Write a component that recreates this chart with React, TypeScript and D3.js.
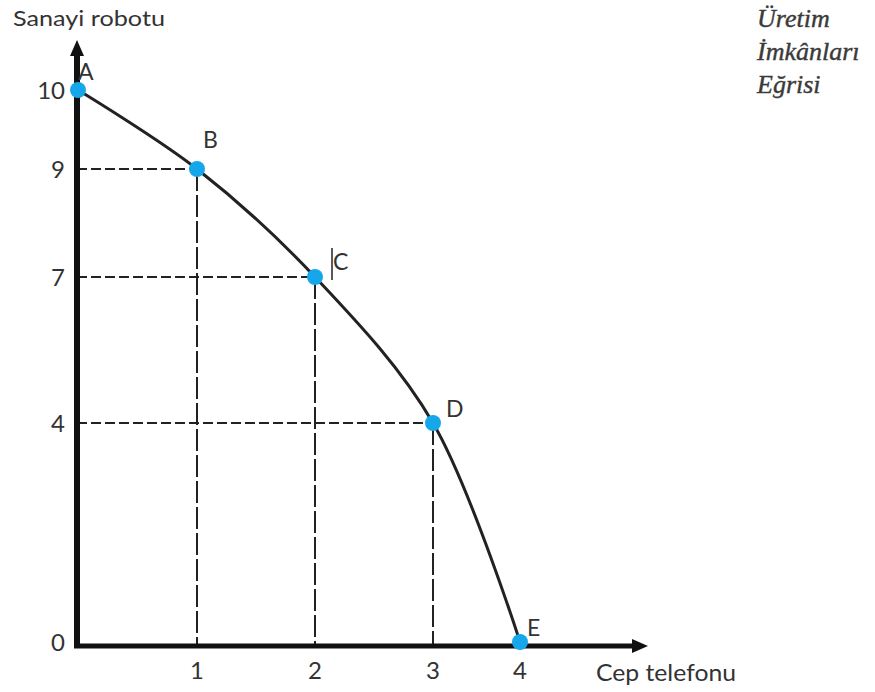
import React from "react";
import * as d3 from "d3";

// Production possibilities: phones (x) vs industrial robots (y)
const pointLabels = ["A", "B", "C", "D", "E"];
const phones = [0, 1, 2, 3, 4];
const robots = [10, 9, 7, 4, 0];
const xTicks = [1, 2, 3, 4];
const yTicks = [0, 4, 7, 9, 10];
const titleLines = ["Üretim", "İmkânları", "Eğrisi"];

const width = 875;
const height = 692;
const ink = "#222";
const textColor = "#333";
const dotColor = "#16a6ea";
const sans = "Lato, 'DejaVu Sans', sans-serif";

export default function App() {
  // The textbook figure is not drawn to a uniform scale, so use piecewise scales
  const x = d3.scaleLinear().domain([0, 1, 2, 3, 4]).range([78, 197, 315, 433, 520]);
  const y = d3.scaleLinear().domain([0, 4, 7, 9, 10]).range([642, 423, 277, 169, 90]);

  const data = phones.map((p, i) => ({ label: pointLabels[i], x: p, y: robots[i] }));

  const curve = d3
    .line<{ x: number; y: number }>()
    .x(d => x(d.x))
    .y(d => y(d.y))
    .curve(d3.curveCatmullRom.alpha(0.5));

  const originX = x(0) - 1;
  const originY = y(0) + 4;
  const xEnd = 648;
  const yTop = 40;

  // label offsets relative to each point
  const labelOffset: Record<string, [number, number]> = {
    A: [0, -10],
    B: [6, -21],
    C: [18, -7],
    D: [13, -6],
    E: [7, -6],
  };

  return (
    <svg
      width={width}
      height={height}
      viewBox={`0 0 ${width} ${height}`}
      style={{ position: "absolute", left: 0, top: 0, background: "#fff" }}
    >
      <rect width={width} height={height} fill="#fff" />

      {/* dashed guide lines */}
      <g stroke={ink} strokeWidth={2} fill="none">
        {data
          .filter(d => d.x > 0 && d.y > 0)
          .map(d => (
            <g key={d.label}>
              <line
                x1={originX}
                x2={x(d.x)}
                y1={y(d.y)}
                y2={y(d.y)}
                strokeDasharray="10,4"
              />
              <line
                x1={x(d.x)}
                x2={x(d.x)}
                y1={y(d.y)}
                y2={originY}
                strokeDasharray="22,4"
              />
            </g>
          ))}
      </g>

      {/* axes */}
      <line x1={originX} x2={originX} y1={originY + 2} y2={yTop + 12} stroke="#111" strokeWidth={6} />
      <path
        d={`M${originX},${yTop} L${originX - 7},${yTop + 16} L${originX + 7},${yTop + 16} Z`}
        fill="#111"
      />
      <line x1={originX - 3} x2={xEnd - 12} y1={originY} y2={originY} stroke="#111" strokeWidth={5} />
      <path
        d={`M${xEnd},${originY} L${xEnd - 16},${originY - 7} L${xEnd - 16},${originY + 7} Z`}
        fill="#111"
      />

      {/* curve */}
      <path d={curve(data) ?? ""} fill="none" stroke={ink} strokeWidth={3} />

      {/* points */}
      {data.map(d => (
        <circle key={d.label} cx={x(d.x)} cy={y(d.y)} r={8} fill={dotColor} />
      ))}

      {/* point labels */}
      <g fontFamily={sans} fontSize={23} fill={textColor}>
        {data.map(d => (
          <text
            key={d.label}
            x={x(d.x) + labelOffset[d.label][0]}
            y={y(d.y) + labelOffset[d.label][1]}
          >
            {d.label}
          </text>
        ))}
      </g>
      {/* stray cursor mark beside C */}
      <line x1={x(2) + 17} x2={x(2) + 17} y1={y(7) - 29} y2={y(7) + 3} stroke={ink} strokeWidth={1.5} />

      {/* tick labels */}
      <g fontFamily={sans} fontSize={24} fill={textColor}>
        {yTicks.map(t => (
          <text key={t} x={65} y={y(t)} dy="0.36em" textAnchor="end">
            {t}
          </text>
        ))}
        {xTicks.map(t => (
          <text key={t} x={x(t)} y={679} textAnchor="middle">
            {t}
          </text>
        ))}
      </g>

      {/* axis titles */}
      <text
        x={13}
        y={26}
        fontFamily={sans}
        fontSize={22}
        fill={textColor}
        textLength={152}
        lengthAdjust="spacingAndGlyphs"
      >
        Sanayi robotu
      </text>
      <text
        x={596}
        y={681}
        fontFamily={sans}
        fontSize={24}
        fill={textColor}
        textLength={140}
        lengthAdjust="spacingAndGlyphs"
      >
        Cep telefonu
      </text>

      {/* curve title */}
      <g fontFamily="'Liberation Serif', 'DejaVu Serif', serif" fontStyle="italic" fontSize={26} fill="#3a3a3a">
        {titleLines.map(line => (
          <text key={line} x={757} y={27 + titleLines.indexOf(line) * 33} stroke="#3a3a3a" strokeWidth={0.4}>
            {line}
          </text>
        ))}
      </g>
    </svg>
  );
}
